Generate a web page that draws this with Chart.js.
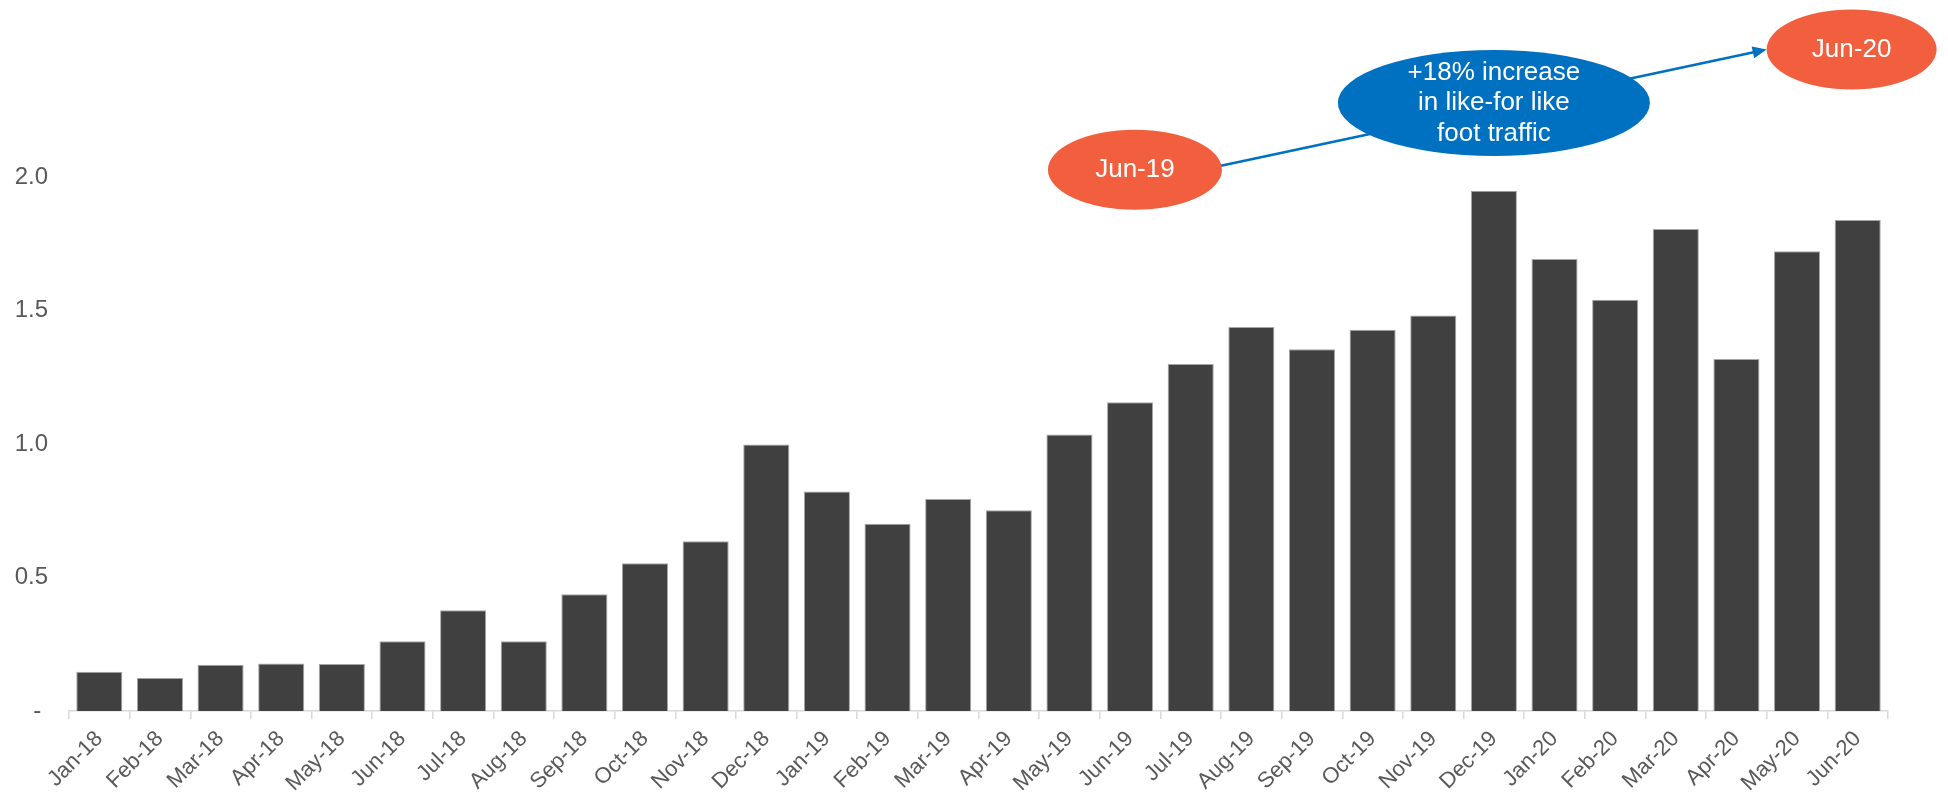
<!DOCTYPE html>
<html>
<head>
<meta charset="utf-8">
<script src="https://cdn.jsdelivr.net/npm/chart.js@4"></script>
<style>
  body { margin: 0; background: #fff; }
  #wrap { width: 1948px; height: 797px; position: relative; }
</style>
</head>
<body>
<div id="wrap"><canvas id="traffic-chart"></canvas></div>
<script>
const months = [
  'Jan-18', 'Feb-18', 'Mar-18', 'Apr-18', 'May-18', 'Jun-18', 'Jul-18', 'Aug-18', 'Sep-18', 'Oct-18', 'Nov-18', 'Dec-18',
  'Jan-19', 'Feb-19', 'Mar-19', 'Apr-19', 'May-19', 'Jun-19', 'Jul-19', 'Aug-19', 'Sep-19', 'Oct-19', 'Nov-19', 'Dec-19',
  'Jan-20', 'Feb-20', 'Mar-20', 'Apr-20', 'May-20', 'Jun-20'
];
const traffic = [
  0.147, 0.124, 0.173, 0.178, 0.176, 0.261, 0.377, 0.261, 0.437, 0.553, 0.636, 0.998,
  0.822, 0.701, 0.794, 0.752, 1.035, 1.156, 1.299, 1.438, 1.355, 1.428, 1.481, 1.948,
  1.693, 1.540, 1.805, 1.318, 1.722, 1.839
];
const yTicks = [0, 0.5, 1.0, 1.5, 2.0];

// callouts, placed by category index and value
const startBubble = { label: ['Jun-19'], at: 17.08, value: 2.027 };
const midBubble = { label: ['+18% increase', 'in like-for like', 'foot traffic'], at: 23, value: 2.277 };
const endBubble = { label: ['Jun-20'], at: 28.9, value: 2.477 };

const orange = '#f15f3f';
const blue = '#0070c0';
const font = '"Liberation Sans", Arial, sans-serif';

function bubbleText(ctx, lines, x, y, lh) {
  ctx.save();
  ctx.fillStyle = '#fff';
  ctx.font = '26px ' + font;
  ctx.textAlign = 'center';
  ctx.textBaseline = 'middle';
  lines.forEach((t, i) => {
    ctx.fillText(t, x, y + (i - (lines.length - 1) / 2) * lh);
  });
  ctx.restore();
}

function ellipse(ctx, x, y, rx, ry, color) {
  ctx.beginPath();
  ctx.ellipse(x, y, rx, ry, 0, 0, Math.PI * 2);
  ctx.fillStyle = color;
  ctx.fill();
}

const callouts = {
  id: 'callouts',
  afterDatasetsDraw(chart) {
    const ctx = chart.ctx;
    const xs = chart.scales.x, ys = chart.scales.y;
    const a = { x: xs.getPixelForValue(startBubble.at), y: ys.getPixelForValue(startBubble.value) };
    const b = { x: xs.getPixelForValue(midBubble.at), y: ys.getPixelForValue(midBubble.value) };
    const c = { x: xs.getPixelForValue(endBubble.at), y: ys.getPixelForValue(endBubble.value) };

    // arrow from Jun-19 to Jun-20
    const x1 = a.x + 86, y1 = a.y - 4;
    const x2 = c.x - 85, y2 = c.y;
    const ang = Math.atan2(y2 - y1, x2 - x1);
    ctx.save();
    ctx.strokeStyle = blue;
    ctx.fillStyle = blue;
    ctx.lineWidth = 2.5;
    ctx.beginPath();
    ctx.moveTo(x1, y1);
    ctx.lineTo(x2 - 12 * Math.cos(ang), y2 - 12 * Math.sin(ang));
    ctx.stroke();
    ctx.beginPath();
    ctx.moveTo(x2, y2);
    ctx.lineTo(x2 - 14 * Math.cos(ang) + 6 * Math.sin(ang), y2 - 14 * Math.sin(ang) - 6 * Math.cos(ang));
    ctx.lineTo(x2 - 14 * Math.cos(ang) - 6 * Math.sin(ang), y2 - 14 * Math.sin(ang) + 6 * Math.cos(ang));
    ctx.closePath();
    ctx.fill();

    ellipse(ctx, a.x, a.y, 87, 40, orange);
    ellipse(ctx, b.x, b.y, 156, 53, blue);
    ellipse(ctx, c.x, c.y, 85, 40, orange);
    ctx.restore();

    bubbleText(ctx, startBubble.label, a.x, a.y, 30);
    bubbleText(ctx, midBubble.label, b.x, b.y, 30.5);
    bubbleText(ctx, endBubble.label, c.x, c.y, 30);
  }
};

const ctx = document.getElementById('traffic-chart').getContext('2d');
new Chart(ctx, {
  type: 'bar',
  data: {
    labels: months,
    datasets: [{
      data: traffic,
      backgroundColor: '#404041',
      borderColor: '#a6a6a6',
      borderWidth: 1,
      barPercentage: 0.76,
      categoryPercentage: 1.0
    }]
  },
  options: {
    responsive: true,
    maintainAspectRatio: false,
    animation: false,
    layout: { padding: { top: 0, right: 60, left: 0, bottom: 0 } },
    plugins: {
      legend: { display: false },
      tooltip: { enabled: false }
    },
    scales: {
      x: {
        afterFit: s => { s.height = 86; },
        grid: {
          drawOnChartArea: false,
          drawTicks: true,
          tickLength: 8,
          color: '#d9d9d9',
          lineWidth: 1.5
        },
        border: { color: '#d9d9d9', width: 1.5 },
        ticks: {
          autoSkip: false,
          minRotation: 45,
          maxRotation: 45,
          padding: 7,
          color: '#595959',
          font: { family: font, size: 22 }
        }
      },
      y: {
        min: 0,
        max: 2.53,
        afterFit: s => { s.width = 69; },
        afterBuildTicks: s => { s.ticks = yTicks.map(v => ({ value: v })); },
        grid: { display: false, drawTicks: false },
        border: { display: false },
        ticks: {
          padding: 21,
          color: '#595959',
          font: { family: font, size: 24 },
          // accounting-style dash for zero, sits a little left of the numbers
          callback: v => v === 0 ? '- ' : v.toFixed(1)
        }
      }
    }
  },
  plugins: [callouts]
});
</script>
</body>
</html>
